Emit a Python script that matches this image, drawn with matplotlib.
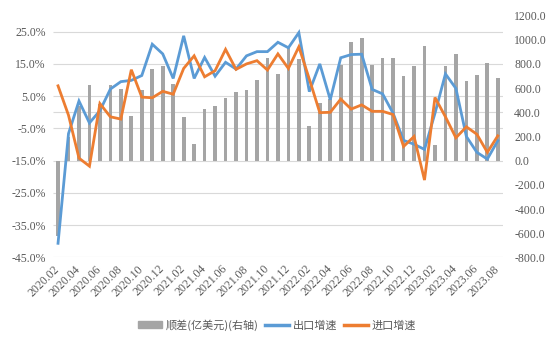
import matplotlib
matplotlib.use("Agg")
import matplotlib.pyplot as plt
from matplotlib.patches import Patch
from matplotlib.lines import Line2D

# monthly categories, 2020.02 - 2023.08
months = (["2020.%02d" % m for m in range(2, 13)]
          + ["2021.%02d" % m for m in range(1, 13)]
          + ["2022.%02d" % m for m in range(1, 13)]
          + ["2023.%02d" % m for m in range(1, 9)])

# trade balance, 100m USD (right axis)
balance = [-620, 199, 453, 629, 465, 623, 589, 370, 584, 754, 781,
           630, 360, 138, 429, 455, 515, 565, 583, 667, 845, 717, 944,
           840, 290, 473, 511, 787, 979, 1012, 793, 847, 852, 698, 780,
           950, 130, 785, 880, 658, 706, 806, 683]

# export growth, % y/y (left axis)
export_yoy = [-40.6, -6.6, 3.5, -3.3, 0.5, 7.2, 9.5, 9.9, 11.4, 21.1, 18.1,
              10.5, 23.7, 10.5, 17.0, 11.2, 15.5, 13.4, 17.5, 18.8, 18.8, 21.7, 20.0,
              24.7, 6.4, 15.0, 3.9, 16.9, 17.9, 18.0, 7.1, 5.7, -0.3, -8.7, -9.9,
              -11.5, -0.3, 11.9, 7.4, -7.5, -12.4, -14.5, -8.8]

# import growth, % y/y (left axis)
import_yoy = [8.2, -0.9, -14.2, -16.7, 2.7, -1.4, -2.1, 13.2, 4.7, 4.5, 6.5,
              5.6, 13.6, 17.5, 11.0, 12.9, 19.5, 13.3, 15.0, 16.0, 13.1, 18.1, 13.6,
              20.3, 10.3, -0.1, 0.0, 4.1, 1.0, 2.3, 0.3, 0.3, -0.7, -10.6, -7.5,
              -21.0, 4.6, -1.4, -7.9, -4.5, -6.8, -12.4, -7.3]

left_ticks = [-45, -35, -25, -15, -5, 5, 15, 25]
right_ticks = list(range(-800, 1201, 200))

TXT = "#595959"
GRID = "#D9D9D9"
BLUE = "#5B9BD5"
ORANGE = "#ED7D31"
BAR = "#A5A5A5"
tick_font = dict(family="Liberation Serif", size=8.5)
cjk = dict(family=["Noto Sans CJK SC", "DejaVu Sans"], size=8)

fig = plt.figure(figsize=(5.54, 3.46), dpi=100)
ax = fig.add_axes([0.0953, 0.2558, 0.8127, 0.6994])   # bars, right axis
ax2 = ax.twinx()                                       # lines, left axis

x = list(range(len(months)))

ax.set_ylim(-800, 1200)
ax2.set_ylim(-45, 30)
ax.set_xlim(-0.5, len(months) - 0.5)

# gridlines follow the left axis but sit under the bars
ax.hlines(left_ticks + [0], 0, 1, transform=ax2.get_yaxis_transform(),
          color=GRID, lw=0.8, zorder=0)

ax.bar(x, balance, width=0.35, color=BAR, zorder=2)
ax2.plot(x, export_yoy, color=BLUE, lw=2.0, solid_joinstyle="miter")
ax2.plot(x, import_yoy, color=ORANGE, lw=2.0, solid_joinstyle="miter")

for a in (ax, ax2):
    for s in a.spines.values():
        s.set_visible(False)
    a.tick_params(length=0, colors=TXT)

ax.yaxis.tick_right()
ax.set_yticks(right_ticks)
ax.set_yticklabels(["%.1f" % v for v in right_ticks], fontdict=tick_font)
ax.tick_params(axis="y", pad=8)

ax2.yaxis.tick_left()
ax2.set_yticks(left_ticks)
ax2.set_yticklabels(["%.1f%%" % v for v in left_ticks], fontdict=tick_font)
ax2.tick_params(axis="y", pad=5)

ax.set_xticks(x[::2])
ax.set_xticklabels(months[::2], rotation=45, ha="right", va="center",
                   rotation_mode="anchor", fontdict=tick_font)
ax.tick_params(axis="x", pad=7)

handles = [Patch(color=BAR),
           Line2D([], [], color=BLUE, lw=2.5),
           Line2D([], [], color=ORANGE, lw=2.5)]
labels = ["顺差(亿美元)(右轴)", "出口增速", "进口增速"]
leg = fig.legend(handles, labels, loc="center", ncol=3, frameon=False,
                 bbox_to_anchor=(0.5, 0.06), prop=cjk,
                 handlelength=2.2, handleheight=0.6, columnspacing=0.6,
                 handletextpad=0.3)
for t in leg.get_texts():
    t.set_color(TXT)

fig.savefig("out.png", dpi=100)
plt.close(fig)
